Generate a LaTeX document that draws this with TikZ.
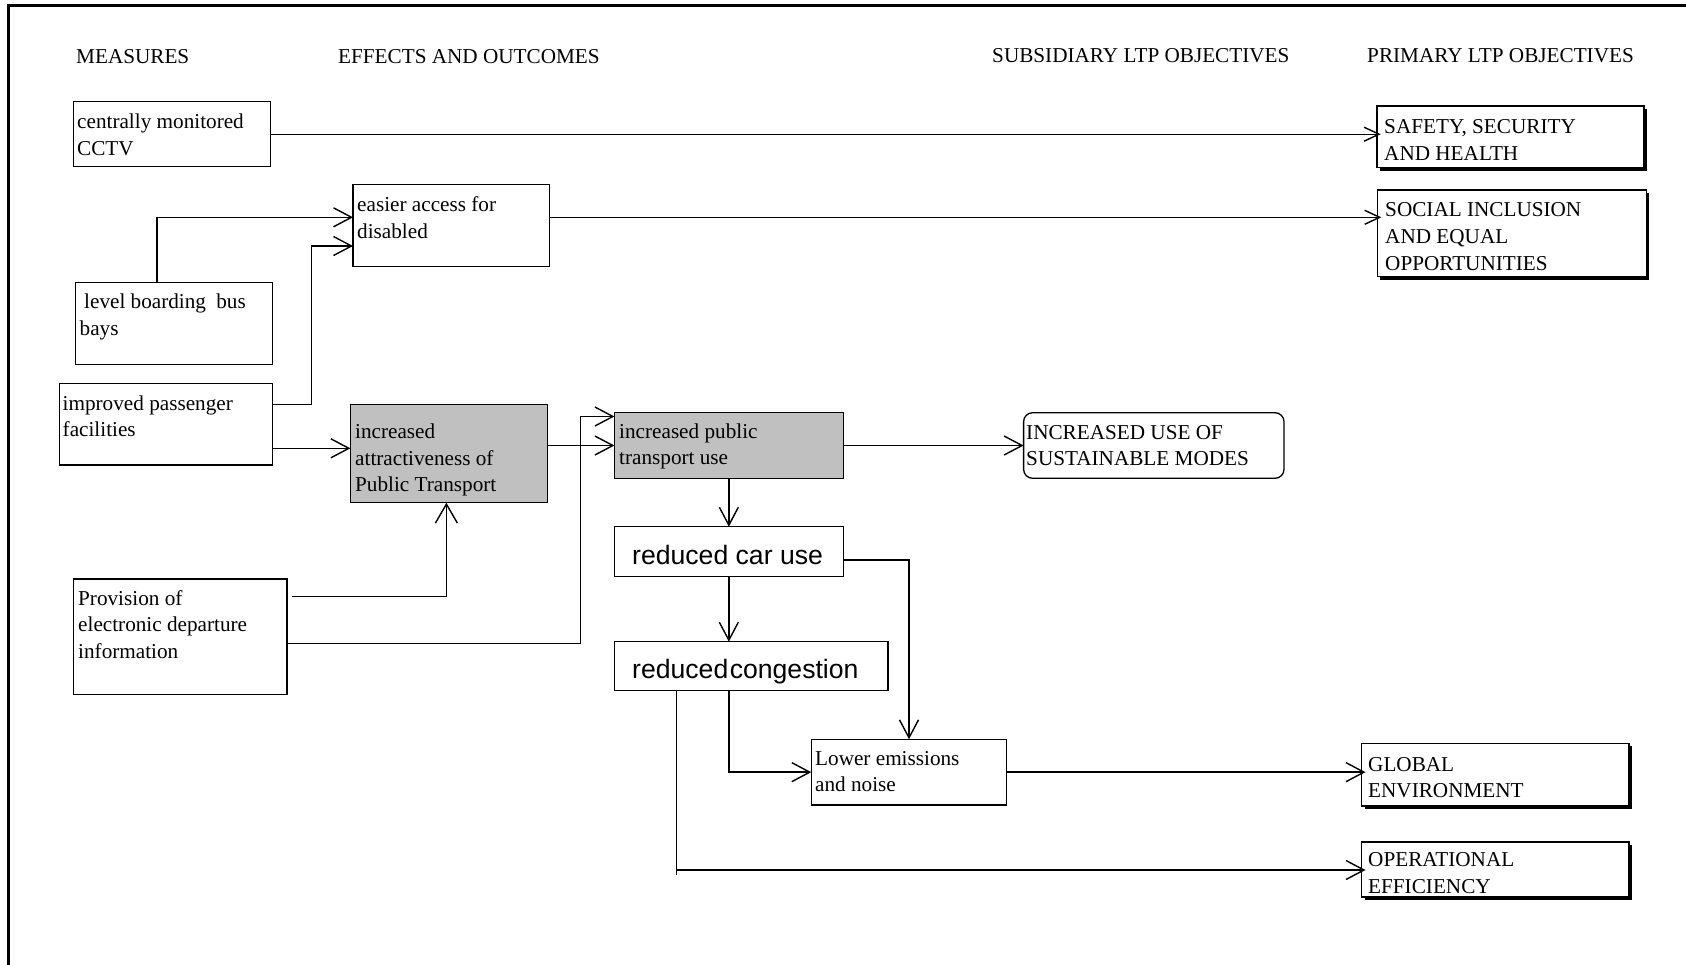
\documentclass[tikz,border=0pt]{standalone}
\usepackage{fontspec}
\setmainfont{Liberation Serif}
\newfontfamily\arialfam{Liberation Sans}
\usetikzlibrary{arrows.meta}
\definecolor{boxgray}{RGB}{192,192,192}
\begin{document}
\begin{tikzpicture}[x=1pt,y=-1pt,
  serif/.style={font=\fontsize{21.2}{26.7}\selectfont},
  sans/.style={font=\arialfam\fontsize{26.6}{32}\selectfont},
  txt/.style={serif, anchor=north west, inner sep=0pt, align=left},
  stxt/.style={sans, anchor=north west, inner sep=0pt, align=left},
  box/.style={draw, line width=1.3pt, inner sep=0pt, outer sep=0pt, anchor=north west},
  shaded/.style={box, fill=boxgray},
  goal/.style={draw, line width=1.6pt, inner sep=0pt, outer sep=0pt, anchor=north west},
  conn/.style={line width=1.4pt},
  arr/.style={conn, -{Straight Barb[length=18pt,width=19pt]}},
  sarr/.style={conn, -{Straight Barb[length=15pt,width=14pt]}},
  varr/.style={conn, -{Straight Barb[length=19pt,width=22pt]}},
]
\useasboundingbox (0,0) rectangle (1686,964);

% outer frame
\draw[line width=2.7pt] (8.7,975) -- (8.7,5.3) -- (1695,5.3);

% column headings
\node[txt] (hmeas) at (76,44.3) {\strut MEASURES};
\node[txt] (heff)  at (338,44.3) {\strut EFFECTS AND OUTCOMES};
\node[txt] (hsub)  at (992,43.6) {\strut SUBSIDIARY LTP OBJECTIVES};
\node[txt] (hprim) at (1367,43.6) {\strut PRIMARY LTP OBJECTIVES};

% measures
\node[box, minimum width=196.8pt, minimum height=65pt]   (cctv) at (73.7,101.7) {};
\node[box, minimum width=196.9pt, minimum height=81.6pt] (lvl)  at (75.4,282.7) {};
\node[box, minimum width=212.9pt, minimum height=81.7pt] (imp)  at (59.4,383.3) {};
\node[box, minimum width=213.3pt, minimum height=115.3pt] (prov) at (73.7,579) {};

% effects and outcomes
\node[box, minimum width=196.6pt, minimum height=82.4pt]  (access) at (353,184.3) {};
\node[shaded, minimum width=196.9pt, minimum height=98.4pt] (attr) at (350.4,404.3) {};
\node[shaded, minimum width=228.9pt, minimum height=65.6pt] (ipt)  at (614.4,412.7) {};
\node[box, minimum width=228.9pt, minimum height=50pt]    (car)   at (614.4,526.7) {};
\node[box, minimum width=273.6pt, minimum height=49pt]    (cong)  at (614.4,641.7) {};
\node[box, minimum width=195.4pt, minimum height=65.7pt]  (lower) at (811.3,739.3) {};

% subsidiary objective
\node[box, rounded corners=9pt, minimum width=260.4pt, minimum height=65.6pt] (sus) at (1023.6,412.7) {};

% primary objectives
\node[goal, minimum width=267.5pt, minimum height=61.5pt] (safety) at (1376.7,106) {};
\node[goal, minimum width=269pt,   minimum height=86.5pt] (social) at (1377.3,190) {};
\node[goal, minimum width=267.5pt, minimum height=62.7pt] (global) at (1361.5,743.3) {};
\node[goal, minimum width=267.5pt, minimum height=55.5pt] (oper)   at (1361.5,841.7) {};
\foreach \n in {safety,social,global,oper}
  \draw[line width=3pt] ([shift={(1.6pt,-3pt)}]\n.north east) -- ([shift={(1.6pt,-1.6pt)}]\n.south east) -- ([shift={(3pt,-1.6pt)}]\n.south west);

% box texts
\node[txt] (cctv-t)   at (77,109.6)   {\strut centrally monitored\\CCTV};
\node[txt] (access-t) at (357,193)    {\strut easier access for\\disabled};
\node[txt] (lvl-t)    at (79.5,289.6) {\strut\hspace*{4.5pt}level boarding\hspace{5pt} bus\\bays};
\node[txt] (imp-t)    at (62.5,391.3) {\strut improved passenger\\facilities};
\node[txt] (prov-t)   at (78,586.3)   {\strut Provision of\\electronic departure\\information};
\node[txt] (attr-t)   at (355,419.6)  {\strut increased\\attractiveness of\\Public Transport};
\node[txt] (ipt-t)    at (619,419.3)  {\strut increased public\\transport use};
\node[stxt] (car-t)   at (632,541.5)  {\strut reduced car use};
\node[stxt] (cong-t)  at (632,655.8)  {\strut reduced\kern1.5pt congestion};
\node[txt] (lower-t)  at (815,746.3)  {\strut Lower emissions\\and noise};
\node[txt] (sus-t)    at (1026,420.3) {\strut INCREASED USE OF\\SUSTAINABLE MODES};
\node[txt] (safety-t) at (1384,114.6) {\strut SAFETY, SECURITY\\AND HEALTH};
\node[txt] (social-t) at (1385,198)   {\strut SOCIAL INCLUSION\\AND EQUAL\\OPPORTUNITIES};
\node[txt] (global-t) at (1368,752.3) {\strut GLOBAL\\ENVIRONMENT};
\node[txt] (oper-t)   at (1368,848)   {\strut OPERATIONAL\\EFFICIENCY};

% routing guides
\coordinate (r217) at (0,217.3);
\coordinate (r246) at (0,246);
\coordinate (r404) at (0,404.3);
\coordinate (r417) at (0,416.5);
\coordinate (r448) at (0,448.3);
\coordinate (r560) at (0,560);
\coordinate (r597) at (0,596.7);
\coordinate (r643) at (0,643.3);
\coordinate (r870) at (0,870);
\coordinate (r875) at (0,875);
\coordinate (c157) at (157,0);
\coordinate (c312) at (311.6,0);
\coordinate (c446) at (446.4,0);
\coordinate (c580) at (580.4,0);
\coordinate (c677) at (676.7,0);
\coordinate (c729) at (728.9,0);

% connectors
\draw[sarr] (cctv.east) -- ([xshift=4pt]safety.west |- cctv.east);
\draw[sarr] (access.east |- r217) -- ([xshift=4pt]social.west |- r217);
\draw[arr] (lvl.north -| c157) |- (access.west |- r217);
\draw[arr] (imp.east |- r404) -| (c312 |- r246) -- (access.west |- r246);
\draw[arr] (imp.east |- r448) -- (attr.west |- r448);
\draw[arr] (attr.east |- ipt.west) -- (ipt.west);
\draw[varr] ([xshift=5.4pt]prov.east |- r597) -| (attr.south -| c446);
\draw[arr] (prov.east |- r643) -| (c580 |- r417) -- (ipt.west |- r417);
\draw[arr] (ipt.east) -- (sus.west);
\draw[arr] (ipt.south) -- (car.north);
\draw[arr] (car.south) -- (car.south |- cong.north);
\draw[arr] (car.east |- r560) -| (lower.north);
\draw[arr] (cong.south -| c729) |- (lower.west);
\draw[arr] (lower.east) -- ([xshift=4pt]global.west |- lower.east);
\draw[arr] (cong.south -| c677) |- ([xshift=4pt]oper.west |- r870);
\draw[conn] (c677 |- r870) -- (c677 |- r875);
\end{tikzpicture}
\end{document}
